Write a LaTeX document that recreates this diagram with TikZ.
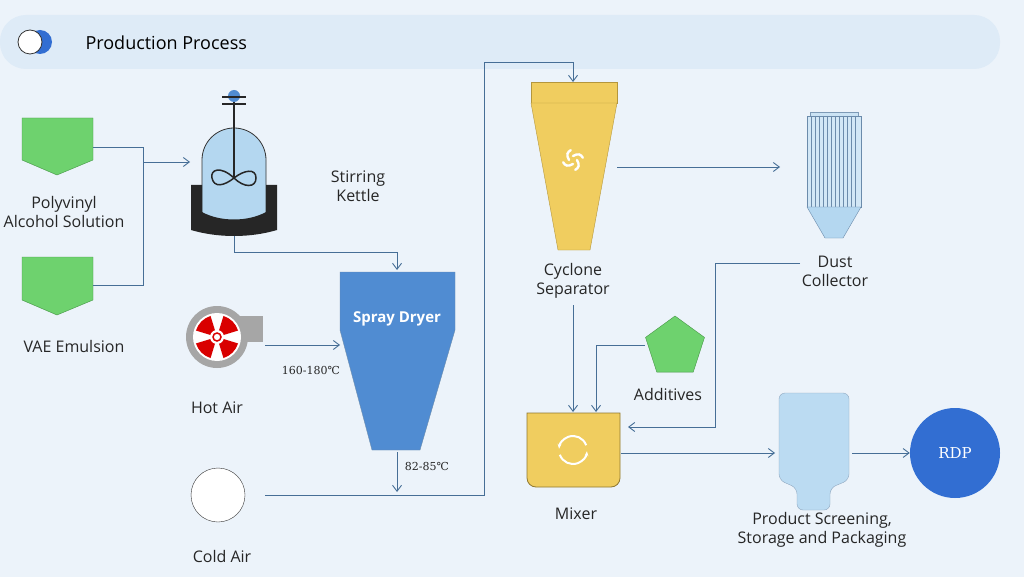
\documentclass[tikz,border=0pt]{standalone}
\usepackage{fontspec}
\setmainfont{Open Sans}
\newfontfamily\tempfont{DejaVu Serif}
\usetikzlibrary{arrows.meta,shapes.geometric}
\definecolor{bg}{RGB}{236,243,250}
\definecolor{hdr}{RGB}{222,235,247}
\definecolor{ln}{RGB}{70,110,150}
\definecolor{grn}{RGB}{110,210,110}
\definecolor{gedge}{RGB}{70,150,70}
\definecolor{ylw}{RGB}{240,205,95}
\definecolor{yedge}{RGB}{180,150,60}
\definecolor{dblue}{RGB}{80,140,210}
\definecolor{lblue}{RGB}{180,215,240}
\definecolor{rdp}{RGB}{50,110,210}
\tikzset{
  lbl/.style={font=\fontsize{16}{19}\selectfont,align=center,text=black!85},
  tmp/.style={font=\tempfont\fontsize{11}{13}\selectfont,text=black!85},
  flow/.style={draw=ln,line width=0.9pt},
  arr/.style={flow,-{Straight Barb[length=6pt,width=9pt]}},
}
\begin{document}
\begin{tikzpicture}[x=1pt,y=-1pt]
\fill[bg] (0,0) rectangle (1024,577);
\useasboundingbox (0,0) rectangle (1024,577);
% header
\fill[hdr,rounded corners=26pt] (0,15) rectangle (1000,69);
\fill[rdp] (40,42) circle (12);
\draw[black!80,fill=white,line width=0.8pt] (30,42) circle (12);
\node[font=\fontsize{18}{21}\selectfont,anchor=west] (title) at (82,43) {Production Process};
% PVA & VAE
\draw[gedge,fill=grn] (22,118) -- (93,118) -- (93,160) -- (57,175) -- (22,160) -- cycle;
\draw[gedge,fill=grn] (22,257) -- (93,257) -- (93,300) -- (57,315) -- (22,300) -- cycle;
\node[lbl] (pval) at (64,212) {Polyvinyl\\Alcohol Solution};
\node[lbl] (vael) at (74,346) {VAE Emulsion};
\coordinate (p1) at (93,147); \coordinate (p2) at (93,285);
\coordinate (j) at (143,162); \coordinate (k) at (190,162);
\draw[flow] (p1) -| (143,285) -- (p2);
\draw[arr] (j) -- (k);
% kettle
\draw[black!80,fill=lblue,line width=0.8pt] (202,220) -- (202,160) arc[start angle=180,end angle=360,x radius=32,y radius=32] -- (266,220);
\fill[black!85] (191,185) -- (202,185) -- (202,212) .. controls (220,222) and (248,222) .. (266,212) -- (266,185) -- (277,185) -- (277,230) .. controls (250,238) and (218,238) .. (191,230) -- cycle;
\draw[black!85,line width=2pt] (234,96) -- (234,178);
\fill[dblue] (234,96) circle (6);
\draw[black!85,line width=2.5pt] (222,97) -- (246,97) (222,104) -- (246,104);
\draw[black!85,line width=1.5pt] (234,178) .. controls (220,165) and (210,170) .. (212,178) .. controls (214,188) and (224,186) .. (234,178) .. controls (244,170) and (256,168) .. (256,178) .. controls (256,188) and (244,188) .. (234,178);
\node[lbl] (kl) at (358,186) {Stirring\\Kettle};
\coordinate (kb) at (234,236);
% spray dryer
\draw[ln!80,fill=dblue] (340,272) -- (455,272) -- (455,330) -- (420,450) -- (372,450) -- (340,330) -- cycle;
\node[font=\bfseries\fontsize{15}{18}\selectfont,text=white] (sd) at (397,319) {Spray Dryer};
\coordinate (sdt) at (397,270);
\draw[arr] (kb) |- (397,252) -- (sdt);
% hot air
\fill[black!35] (217,316) rectangle (263,342);
\fill[black!35] (217,337) circle (31);
\fill[white] (217,337) circle (24);
\foreach \a in {45,135,225,315}{
  \fill[red!85!black] (217,337) -- ++(\a-28:22) arc[start angle=\a-28,end angle=\a+28,radius=22] -- cycle;}
\fill[white] (217,337) circle (7);
\draw[red!85!black,line width=1.5pt] (217,337) circle (4);
\node[lbl] (hal) at (217,408) {Hot Air};
\coordinate (ha) at (265,345);
\draw[arr] (ha) -- (340,345);
\node[tmp] (t1) at (311,370) {160-180℃};
% dryer bottom
\coordinate (sdb) at (397,452); \coordinate (sdo) at (397,492);
\draw[arr] (sdb) -- (sdo);
\node[tmp] (t2) at (427,466) {82-85℃};
% cold air
\draw[black!80,fill=white] (218,495) circle (27);
\node[lbl] (cal) at (222,556) {Cold Air};
\coordinate (ca) at (265,495); \coordinate (cyt) at (573,82);
\draw[arr] (ca) -- (484,495) |- (573,62) -- (cyt);
% cyclone
\draw[yedge,fill=ylw] (531,82) rectangle (617,103);
\draw[yedge,fill=ylw] (531,103) -- (617,103) -- (590,250) -- (558,250) -- cycle;
\foreach \a in {0,90,180,270}{
  \draw[white,line width=2.4pt,line cap=round] (573,160) ++(\a:4) .. controls +(\a+60:6) and +(\a-30:4) .. ++(\a+100:10);}
\node[lbl] (cyl) at (573,281) {Cyclone\\Separator};
\coordinate (cyr) at (617,167); \coordinate (dcl) at (780,167);
\draw[arr] (cyr) -- (dcl);
% dust collector
\draw[ln!70,fill=lblue!70] (810,112) rectangle (858,116);
\draw[ln!80,fill=lblue!60] (807,116) rectangle (861,207);
\foreach \x in {811,815,...,857} \draw[ln!80,line width=0.6pt] (\x,116) -- (\x,207);
\draw[ln!80,fill=lblue] (807,207) -- (861,207) -- (843,238) -- (825,238) -- cycle;
\node[lbl] (dcl2) at (835,271) {Dust\\Collector};
% mixer
\draw[yedge!80!black,fill=ylw,line width=0.8pt,rounded corners=9pt] (527,413) [sharp corners]-- (620,413) [rounded corners=9pt]-- (620,487) -- (527,487) [sharp corners]-- cycle;
\draw[white,line width=2pt,-{Stealth[length=5pt]}] (573,450) ++(160:14) arc[start angle=160,end angle=5,radius=14];
\draw[white,line width=2pt,-{Stealth[length=5pt]}] (573,450) ++(-20:14) arc[start angle=-20,end angle=-175,radius=14];
\node[lbl] (mxl) at (576,514) {Mixer};
\coordinate (cyb) at (573,305); \coordinate (mxt) at (573,412);
\draw[arr] (cyb) -- (mxt);
% additives
\node[regular polygon,regular polygon sides=5,minimum size=62pt,draw=gedge,fill=grn,inner sep=0] (add) at (675,347) {};
\node[lbl] (adl) at (668,394) {Additives};
\coordinate (al) at (645,345);
\draw[arr] (al) -- (596,345) -- (596,412);
\coordinate (dd) at (800,263); \coordinate (mxr) at (628,427);
\draw[arr] (dd) -- (715,263) |- (mxr);
% packaging
\draw[ln!60,fill=lblue!90,rounded corners=6pt] (779,393) -- (849,393) -- (849,480) -- (830,488) -- (830,510) -- (797,510) -- (797,488) -- (779,480) -- cycle;
\node[lbl] (pkl) at (822,530) {Product Screening,\\Storage and Packaging};
\coordinate (mo) at (621,453); \coordinate (pki) at (775,453);
\draw[arr] (mo) -- (pki);
% RDP
\node[circle,fill=rdp,minimum size=90pt,text=white,font=\tempfont\fontsize{15}{18}\selectfont] (rdp) at (955,453) {RDP};
\coordinate (pko) at (852,453);
\draw[arr] (pko) -- (rdp);
\end{tikzpicture}
\end{document}
